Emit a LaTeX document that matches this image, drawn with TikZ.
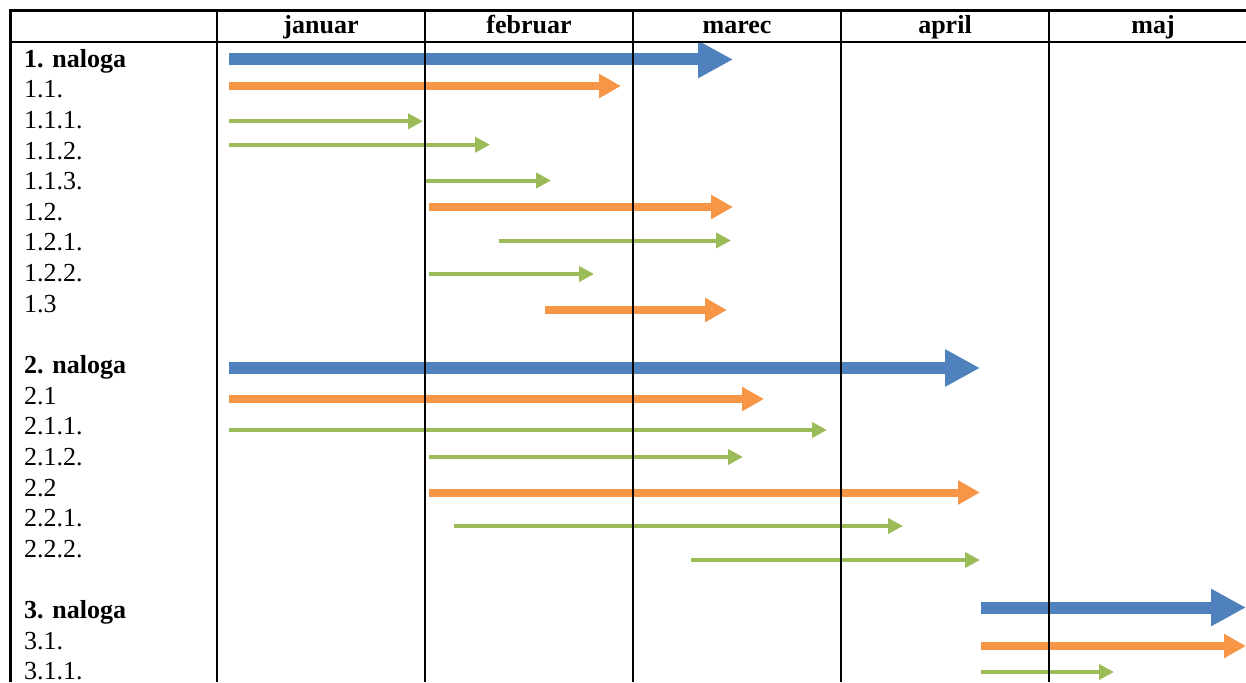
\documentclass[tikz,border=0pt]{standalone}
\usepackage{fontspec}
\setmainfont{Liberation Serif}
\usetikzlibrary{arrows.meta}
\definecolor{taskblue}{HTML}{4F81BD}
\definecolor{taskorange}{HTML}{F79646}
\definecolor{taskgreen}{HTML}{9BBB59}
\begin{document}
\begin{tikzpicture}[x=1pt,y=-1pt,
  gridline/.style={black,line width=2.2pt},
  rowlabel/.style={anchor=base west,inner sep=0pt,font=\fontsize{26}{30}\selectfont},
  monthlabel/.style={anchor=base,inner sep=0pt,font=\fontsize{26}{30}\selectfont\bfseries},
  taskbar/.style={taskblue,line width=12pt,-{Triangle[length=35pt,width=35pt]}},
  subbar/.style={taskorange,line width=8pt,-{Triangle[length=22pt,width=23pt]}},
  stepbar/.style={taskgreen,line width=4pt,-{Triangle[length=15pt,width=15pt]}}]
\useasboundingbox (0,0) rectangle (1246,682);
\clip (0,0) rectangle (1246,682);

% month headers
\foreach \m/\cx in {januar/321,februar/529,marec/737,april/945,maj/1153}
  \node[monthlabel] (h-\m) at (\cx,34) {\m};

% row labels
\foreach \i/\t in {1/1.1.,2/1.1.1.,3/1.1.2.,4/1.1.3.,5/1.2.,6/1.2.1.,7/1.2.2.,8/1.3,
                   11/2.1,12/2.1.1.,13/2.1.2.,14/2.2,15/2.2.1.,16/2.2.2.,
                   19/3.1.,20/3.1.1.}
  \node[rowlabel] (r\i) at (24,67.2+30.63*\i) {\t};
\foreach \i/\t in {0/1,10/2,18/3}
  \node[rowlabel,font=\fontsize{26}{30}\selectfont\bfseries] (r\i) at (24,67.2+30.63*\i) {\t. naloga};

% main tasks
\foreach \y/\a/\b [count=\n] in {59.5/229/733,368/229/980,607.5/981/1246}
  \draw[taskbar] (\a,\y) coordinate (ts\n) -- (\b,\y) coordinate (te\n);
% subtasks
\foreach \y/\a/\b [count=\n] in {86/229/621,207/429/733,310/545/727,399/229/764,492.5/429/980,646/981/1246}
  \draw[subbar] (\a,\y) coordinate (ss\n) -- (\b,\y) coordinate (se\n);
% steps
\foreach \y/\a/\b [count=\n] in {121.3/229/423,144.7/229/490,180.5/425/551,240.5/499/731,274/429/594,
                                430/229/827,457/429/743,526/454/903,560/691/980,672/981/1114}
  \draw[stepbar] (\a,\y) coordinate (gs\n) -- (\b,\y) coordinate (ge\n);

% table grid
\draw[gridline] (9.4,10.5) -- (1246,10.5);
\draw[gridline] (9.4,42) -- (1246,42);
\draw[gridline] (10.5,9.4) -- (10.5,682);
\foreach \x in {217,425,633,841,1049}
  \draw[gridline] (\x,9.4) -- (\x,682);
\end{tikzpicture}
\end{document}
